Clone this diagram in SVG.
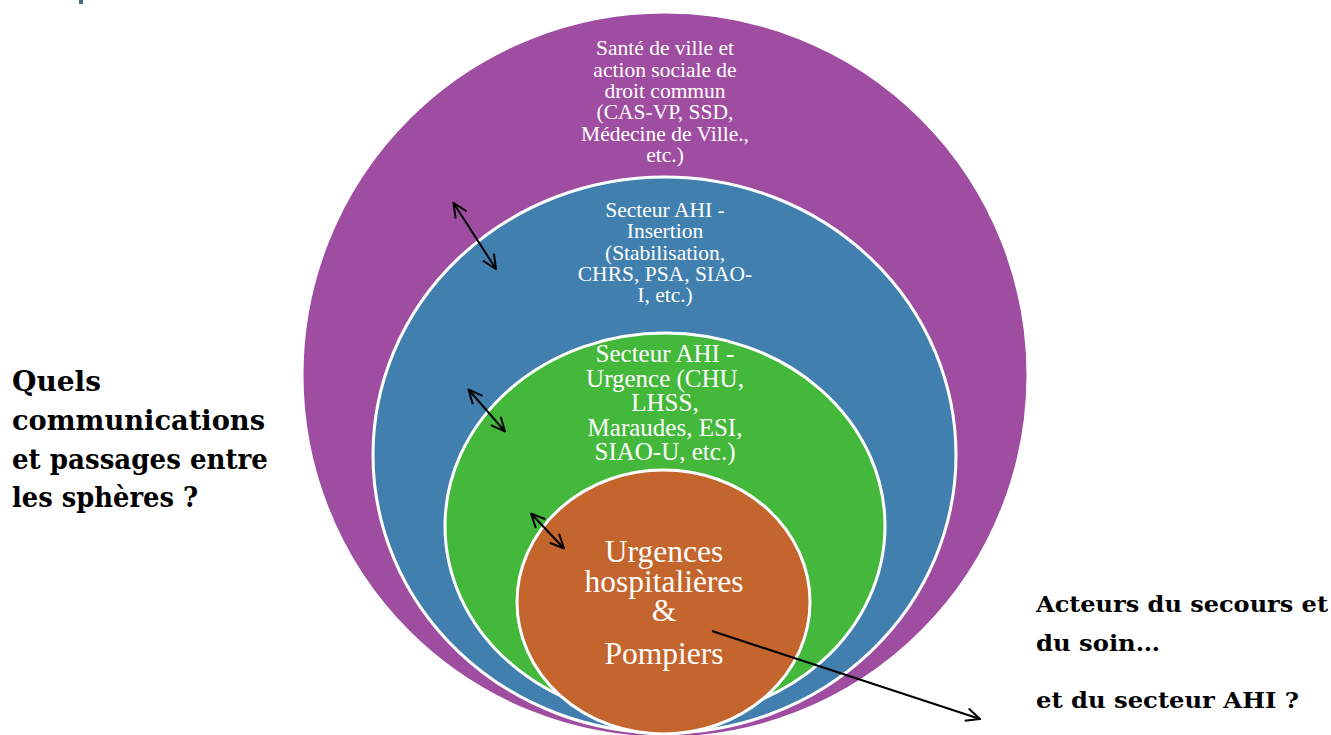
<svg xmlns="http://www.w3.org/2000/svg" width="1331" height="735" viewBox="0 0 1331 735">
<style>
.sph{stroke:#ffffff;stroke-width:3}
.in{font-family:"Liberation Serif","Times New Roman",serif;fill:#ffffff;text-anchor:middle}
.q{font-family:"DejaVu Serif",serif;font-weight:bold;fill:#000000}
.ar{stroke:#000000;stroke-width:2;fill:none}
</style>
<defs>
<marker id="ah" viewBox="0 0 16 16" refX="15" refY="8" markerWidth="16" markerHeight="16" markerUnits="userSpaceOnUse" orient="auto-start-reverse">
<path d="M1,1.5 L15,8 L1,14.5" fill="none" stroke="#000000" stroke-width="2"/>
</marker>
</defs>
<rect width="1331" height="735" fill="#ffffff"/>
<rect x="79" y="0" width="4" height="4" fill="#3f6e7c"/>
<g id="sphere-droit-commun">
<ellipse class="sph" cx="665" cy="375" rx="363" ry="363" fill="#9f4da0"/>
<text class="in" font-size="21.5"><tspan x="665" y="55">Santé de ville et</tspan><tspan x="665" y="76.5">action sociale de</tspan><tspan x="665" y="98">droit commun</tspan><tspan x="665" y="119">(CAS-VP, SSD,</tspan><tspan x="665" y="140.5">Médecine de Ville.,</tspan><tspan x="665" y="162">etc.)</tspan></text>
</g>
<g id="sphere-insertion">
<ellipse class="sph" cx="664.5" cy="455" rx="291.5" ry="278" fill="#417faf"/>
<text class="in" font-size="21.5"><tspan x="665" y="217">Secteur AHI -</tspan><tspan x="665" y="238">Insertion</tspan><tspan x="665" y="259.5">(Stabilisation,</tspan><tspan x="665" y="280.5">CHRS, PSA, SIAO-</tspan><tspan x="665" y="302">I, etc.)</tspan></text>
</g>
<g id="sphere-urgence">
<ellipse class="sph" cx="665" cy="526" rx="220" ry="193" fill="#44b83b"/>
<text class="in" font-size="25"><tspan x="665" y="362">Secteur AHI -</tspan><tspan x="665" y="386.5">Urgence (CHU,</tspan><tspan x="665" y="411">LHSS,</tspan><tspan x="665" y="435.5">Maraudes, ESI,</tspan><tspan x="665" y="460">SIAO-U, etc.)</tspan></text>
</g>
<g id="sphere-hopital">
<ellipse class="sph" cx="663.5" cy="602" rx="146.5" ry="132" fill="#c4652e"/>
<text class="in" font-size="31.5"><tspan x="664" y="562">Urgences</tspan><tspan x="664" y="592">hospitalières</tspan><tspan x="664" y="621">&amp;</tspan><tspan x="664" y="664">Pompiers</tspan></text>
</g>
<g id="question-left">
<text class="q" font-size="27"><tspan x="12" y="391" textLength="89" lengthAdjust="spacingAndGlyphs">Quels</tspan><tspan x="12" y="430" textLength="253" lengthAdjust="spacingAndGlyphs">communications</tspan><tspan x="12" y="469" textLength="256" lengthAdjust="spacingAndGlyphs">et passages entre</tspan><tspan x="12" y="507" textLength="186" lengthAdjust="spacingAndGlyphs">les sphères ?</tspan></text>
</g>
<g id="question-right">
<text class="q" font-size="22"><tspan x="1036" y="612" textLength="292" lengthAdjust="spacingAndGlyphs">Acteurs du secours et</tspan><tspan x="1036" y="651" textLength="124" lengthAdjust="spacingAndGlyphs">du soin…</tspan><tspan x="1036" y="708" textLength="263" lengthAdjust="spacingAndGlyphs">et du secteur AHI ?</tspan></text>
</g>
<g id="connectors">
<line class="ar" x1="453.5" y1="203" x2="496" y2="269" marker-start="url(#ah)" marker-end="url(#ah)"/>
<line class="ar" x1="468.5" y1="389.5" x2="505" y2="431.5" marker-start="url(#ah)" marker-end="url(#ah)"/>
<line class="ar" x1="531" y1="513.5" x2="564" y2="548.5" marker-start="url(#ah)" marker-end="url(#ah)"/>
<line class="ar" x1="712" y1="631" x2="980" y2="719" marker-end="url(#ah)"/>
</g>
</svg>
